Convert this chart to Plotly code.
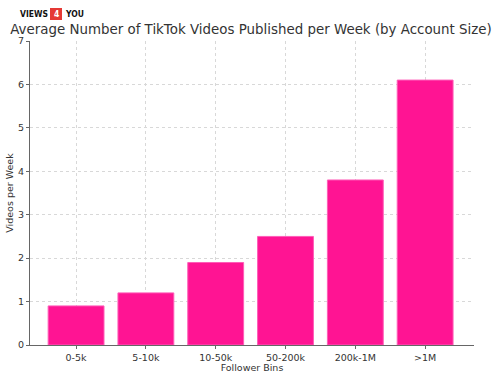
import plotly.graph_objects as go

categories = ["0-5k", "5-10k", "10-50k", "50-200k", "200k-1M", ">1M"]
videos_per_week = [0.9, 1.2, 1.9, 2.5, 3.8, 6.1]
y_ticks = [0, 1, 2, 3, 4, 5, 6, 7]

font = "DejaVu Sans"
L, R, T, B = 30, 28, 41, 31
PW, PH = 502 - L - R, 376 - T - B

def px(x):
    return (x - L) / PW

def py(y):
    return (376 - B - y) / PH

fig = go.Figure()
fig.add_trace(go.Bar(
    x=list(range(len(categories))), y=videos_per_week, width=0.8,
    marker=dict(color="#FF1493", line=dict(color="#FF5CB8", width=1)),
))

fig.update_layout(
    width=502, height=376,
    margin=dict(l=L, r=R, t=T, b=B, autoexpand=False),
    paper_bgcolor="white", plot_bgcolor="white",
    showlegend=False,
    font=dict(family=font, size=10, color="#333333"),
    title=dict(text="Average Number of TikTok Videos Published per Week (by Account Size)",
               x=0.5, xanchor="center", xref="container", yref="container",
               y=1 - 29/376, yanchor="middle",
               font=dict(family=font, size=13.4, color="#333333")),
    xaxis=dict(range=[-0.66, 5.70], tickmode="array", automargin=False,
               tickvals=list(range(len(categories))), ticktext=categories,
               showline=True, linecolor="#666666", linewidth=1.2,
               showgrid=True, gridcolor="#d8d8d8", griddash="dot", gridwidth=1,
               ticks="outside", ticklen=3, tickcolor="#666666",
               title=dict(text="Follower Bins", standoff=2, font=dict(size=9.5)),
               zeroline=False, tickfont=dict(size=9.5)),
    yaxis=dict(range=[0, 7], tickmode="array", tickvals=y_ticks, automargin=False,
               showline=True, linecolor="#666666", linewidth=1.2,
               showgrid=True, gridcolor="#d8d8d8", griddash="dot", gridwidth=1,
               ticks="outside", ticklen=3, tickcolor="#666666",
               title=dict(text="Videos per Week", standoff=2, font=dict(size=9.5)),
               zeroline=False, tickfont=dict(size=9.5)),
)

# Logo
fig.add_annotation(text="<b>VIEWS</b>", xref="paper", yref="paper", x=px(49.5), y=py(14),
                   xanchor="right", yanchor="middle", showarrow=False,
                   font=dict(family="DejaVu Sans Condensed", size=8.5, color="#111111"))
fig.add_shape(type="rect", xref="paper", yref="paper",
              x0=px(50), x1=px(62), y0=py(20), y1=py(8),
              fillcolor="#E53935", line=dict(width=0), layer="above")
fig.add_annotation(text="<b>4</b>", xref="paper", yref="paper", x=px(56), y=py(14),
                   xanchor="center", yanchor="middle", showarrow=False,
                   font=dict(family="DejaVu Sans Condensed", size=8.5, color="white"))
fig.add_annotation(text="<b>YOU</b>", xref="paper", yref="paper", x=px(62.5), y=py(14),
                   xanchor="left", yanchor="middle", showarrow=False,
                   font=dict(family="DejaVu Sans Condensed", size=8.5, color="#111111"))

fig.write_html("out.html", config={"displayModeBar": False},
               post_script="document.body.style.margin='0';document.body.style.overflow='hidden';")
